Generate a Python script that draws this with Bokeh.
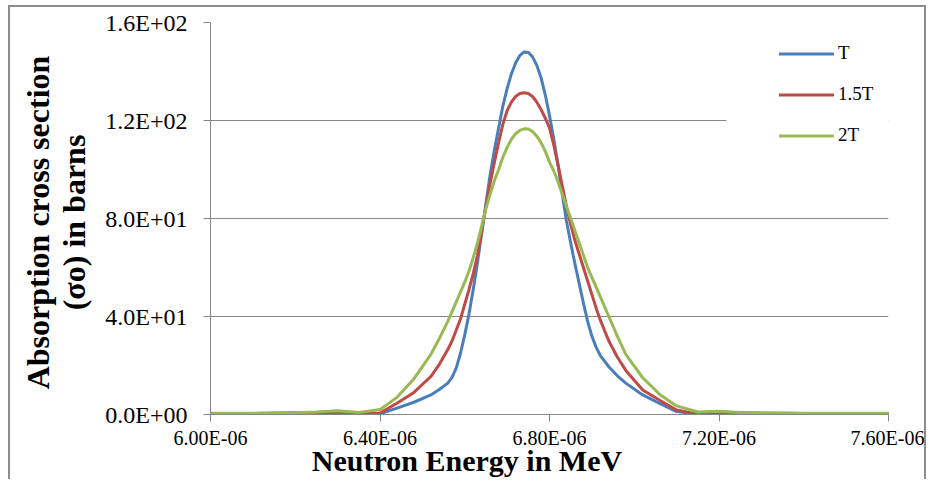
from bokeh.plotting import figure
from bokeh.models import (FixedTicker, CustomJSTickFormatter, Legend, LegendItem,
                          BoxAnnotation, Range1d, ColumnDataSource)
from bokeh.embed import file_html
from bokeh.resources import INLINE

# ---------------- data ----------------
energy_ue = [6.00, 6.10, 6.20, 6.25, 6.30, 6.35, 6.40, 6.44, 6.48, 6.52, 6.54,
             6.56, 6.57, 6.58, 6.59, 6.60, 6.61, 6.62, 6.63, 6.64, 6.65,
             6.66, 6.67, 6.68, 6.69, 6.70, 6.71, 6.72, 6.73, 6.74, 6.75,
             6.76, 6.77, 6.78, 6.79, 6.80, 6.81, 6.82, 6.83, 6.84, 6.85,
             6.86, 6.87, 6.88, 6.89, 6.90, 6.91, 6.92,
             6.94, 6.96, 6.98, 7.02, 7.06, 7.10, 7.15, 7.20, 7.25, 7.30, 7.40, 7.50, 7.60]  # x 1e-6 MeV

sigma_T = [0.3, 0.4, 0.6, 0.8, 0.9, 0.4, 0.3, 2.6, 5.0, 8.0, 10.2,
           12.8, 15.2, 19.0, 25.0, 32.5, 41.0, 51.0, 62.0, 74.0, 86.0,
           98.0, 108.0, 117.0, 126.0, 133.0, 139.0, 143.5, 146.5, 148.0, 147.8,
           146.0, 142.5, 137.5, 130.5, 122.0, 112.5, 102.0, 90.0, 79.0, 70.0,
           61.5, 53.5, 45.5, 38.0, 32.0, 27.5, 24.0,
           19.5, 15.8, 12.8, 8.0, 4.5, 1.2, 0.2, 0.8, 0.6, 0.5, 0.4, 0.3, 0.3]
sigma_15T = [0.3, 0.4, 0.6, 0.8, 0.9, 0.3, 0.6, 4.6, 9.0, 15.5, 20.5,
             26.5, 30.0, 34.5, 39.0, 45.0, 51.0, 57.5, 65.0, 75.0, 85.0,
             94.5, 103.0, 111.0, 118.5, 124.0, 127.5, 129.8, 131.0, 131.3, 131.0,
             129.8, 127.5, 124.5, 121.0, 117.0, 110.0, 102.0, 93.5, 85.0, 77.5,
             71.0, 65.5, 60.0, 54.5, 49.0, 43.5, 38.5,
             30.0, 23.5, 18.0, 10.0, 5.8, 1.8, 0.1, 0.7, 0.6, 0.5, 0.4, 0.3, 0.3]
sigma_2T = [0.5, 0.5, 0.7, 1.0, 1.5, 0.8, 2.0, 7.0, 14.5, 24.5, 31.0,
            38.0, 42.0, 46.0, 50.0, 54.0, 58.5, 64.0, 70.0, 77.0, 84.0,
            90.0, 95.5, 100.0, 105.0, 109.0, 112.3, 114.6, 116.0, 116.6, 116.5,
            115.5, 113.6, 111.0, 107.5, 103.0, 99.5, 95.0, 90.0, 85.0, 80.0,
            75.0, 70.0, 65.0, 60.0, 56.0, 52.0, 48.0,
            40.0, 32.0, 24.5, 15.0, 8.2, 3.5, 1.0, 1.3, 0.8, 0.6, 0.5, 0.5, 0.5]

series_names = ["T", "1.5T", "2T"]
series_values = [sigma_T, sigma_15T, sigma_2T]
series_colors = ["#4A7EBB", "#BE4B48", "#98B954"]

x_ticks = [6.00e-6, 6.40e-6, 6.80e-6, 7.20e-6, 7.60e-6]
y_ticks = [0, 40, 80, 120, 160]

x_title = "Neutron Energy in MeV"
y_title_lines = ["Absorption cross section", "(σo) in barns"]

# ---------------- figure ----------------
FONT = "Liberation Serif"
GRAY = "#868686"
NBSP = "\u00a0"

energy = [e * 1e-6 for e in energy_ue]

p = figure(width=918, height=474, output_backend="svg", toolbar_location=None,
           x_range=Range1d(x_ticks[0], x_ticks[-1]), y_range=Range1d(y_ticks[0], y_ticks[-1]),
           min_border_left=200, min_border_right=40, min_border_top=15, min_border_bottom=67)
p.margin = (5, 0, 0, 8)
p.outline_line_color = None
p.background_fill_color = "white"
p.border_fill_color = "white"
p.styles = {"border-left": "2px solid #8c8c8c", "border-top": "2px solid #8c8c8c",
            "border-right": "2px solid #8c8c8c"}

p.xgrid.visible = False
p.ygrid.grid_line_color = GRAY
p.ygrid.grid_line_width = 1

fmt_js = """
const s = tick.toExponential(%d);
const parts = s.split('e');
const e = parseInt(parts[1]);
const a = Math.abs(e);
return parts[0] + 'E' + (e < 0 ? '-' : '+') + (a < 10 ? '0' : '') + a;
"""

xa = p.xaxis[0]
xa.ticker = FixedTicker(ticks=x_ticks)
xa.formatter = CustomJSTickFormatter(code=fmt_js % 2)
xa.major_label_text_font = FONT
xa.major_label_text_font_size = "20px"
xa.major_label_text_color = "black"
xa.major_label_standoff = 5
xa.major_tick_out = 7
xa.major_tick_in = 0
xa.minor_tick_out = 0
xa.minor_tick_in = 0
xa.axis_line_color = GRAY
xa.major_tick_line_color = GRAY
# trailing no-break spaces shift the centred title left, as in the original
xa.axis_label = x_title + NBSP * 22
xa.axis_label_text_font = FONT
xa.axis_label_text_font_style = "bold"
xa.axis_label_text_font_size = "30px"
xa.axis_label_text_color = "black"
xa.axis_label_standoff = -8

ya = p.yaxis[0]
ya.ticker = FixedTicker(ticks=y_ticks)
ya.formatter = CustomJSTickFormatter(code=fmt_js % 1)
ya.major_label_text_font = FONT
ya.major_label_text_font_size = "24px"
ya.major_label_text_color = "black"
ya.major_label_standoff = 16
ya.major_tick_out = 7
ya.major_tick_in = 0
ya.minor_tick_out = 0
ya.minor_tick_in = 0
ya.axis_line_color = GRAY
ya.major_tick_line_color = GRAY
ya.axis_label = "\n".join(line + NBSP for line in y_title_lines)
ya.axis_label_text_font = FONT
ya.axis_label_text_font_style = "bold"
ya.axis_label_text_font_size = "32px"
ya.axis_label_text_color = "black"
ya.axis_label_text_line_height = 1.0
ya.axis_label_standoff = 10

renderers = []
for name, vals, col in zip(series_names, series_values, series_colors):
    src = ColumnDataSource(dict(x=energy, y=vals))
    r = p.line("x", "y", source=src, line_color=col, line_width=3,
               line_join="round", line_cap="round")
    renderers.append(r)

# white background area of the legend (hides grid line behind it)
p.add_layout(BoxAnnotation(left=7.2177e-6, right=7.6e-6, bottom=105, top=150,
                           fill_color="white", fill_alpha=1.0, line_color=None, level="underlay"))

legend = Legend(items=[LegendItem(label=n, renderers=[r]) for n, r in zip(series_names, renderers)],
                location=(569, 268), margin=0, padding=10, spacing=19,
                glyph_width=55, glyph_height=21, label_standoff=4,
                label_text_font=FONT, label_text_font_size="19px", label_text_color="black",
                border_line_color=None, background_fill_color="white", background_fill_alpha=1.0)
p.add_layout(legend)

open("out.html", "w").write(file_html(p, INLINE))
